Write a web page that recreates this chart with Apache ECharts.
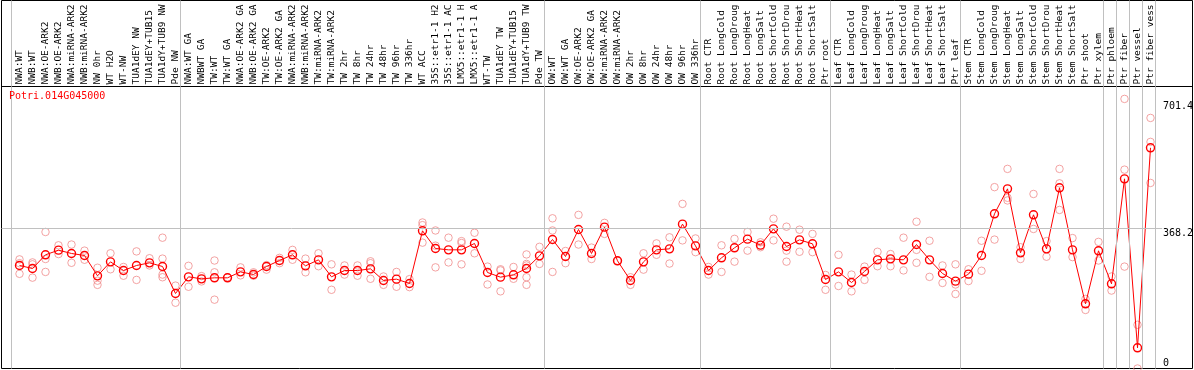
<!DOCTYPE html>
<html><head><meta charset="utf-8">
<script src="https://cdn.jsdelivr.net/npm/echarts@6/dist/echarts.min.js"></script>
<style>html,body{margin:0;padding:0;background:#fff}#c{width:1194px;height:370px}</style>
</head><body><div id="c"></div><script>
// ---------- DATA ----------
const geneName = 'Potri.014G045000';
const categories = [
 "NWA:WT","NWB:WT","NWA:OE-ARK2","NWB:OE-ARK2","NWA:miRNA-ARK2","NWB:miRNA-ARK2","NW 0hr","WT H2O","WT-NW","TUA1dEY NW","TUA1dEY+TUB15","TUA1dY+TUB9 NW","Pde NW",
 "NWA:WT GA","NWBWT GA","TW:WT","TW:WT GA","NWA:OE-ARK2 GA","NWB:OE-ARK2 GA","TW:OE-ARK2","TW:OE-ARK2 GA","NWA:miRNA-ARK2","NWB:miRNA-ARK2","TW:miRNA-ARK2","TW:miRNA-ARK2","TW 2hr","TW 8hr","TW 24hr","TW 48hr","TW 96hr","TW 336hr","WT ACC","35S::etr1-1 H2","35S::etr1-1 AC","LMX5::etr1-1 H","LMX5::etr1-1 A","WT-TW","TUA1dEY TW","TUA1dEY+TUB15","TUA1dY+TUB9 TW","Pde TW",
 "OW:WT","OW:WT GA","OW:OE-ARK2","OW:OE-ARK2 GA","OW:miRNA-ARK2","OW:miRNA-ARK2","OW 2hr","OW 8hr","OW 24hr","OW 48hr","OW 96hr","OW 336hr",
 "Root CTR","Root LongCold","Root LongDroug","Root LongHeat","Root LongSalt","Root ShortCold","Root ShortDrou","Root ShortHeat","Root ShortSalt","Ptr root",
 "Leaf CTR","Leaf LongCold","Leaf LongDroug","Leaf LongHeat","Leaf LongSalt","Leaf ShortCold","Leaf ShortDrou","Leaf ShortHeat","Leaf ShortSalt","Ptr leaf",
 "Stem CTR","Stem LongCold","Stem LongDroug","Stem LongHeat","Stem LongSalt","Stem ShortCold","Stem ShortDrou","Stem ShortHeat","Stem ShortSalt","Ptr shoot","Ptr xylem",
 "Ptr phloem","Ptr fiber","Ptr vessel","Ptr fiber vess"
];
const means = [
 271,263,299,311.2,302.5,297.2,243.7,280.5,257.7,270.9,277.9,268.3,197.3,
 241.1,235.8,238.5,238.5,254.2,247.2,268.3,284.1,299.0,270.0,285.8,241.1,257.7,257.7,262.1,231.4,235.0,223.6,362.1,315.6,312.1,312.1,328.8,252.5,240.2,246.4,263.0,296.3,
 339.3,294.6,365.6,302.5,371.7,283.2,231.4,280.5,312.1,314.7,379.6,322.6,
 257.7,291.1,317.4,340.2,324.4,367.3,320.9,338.4,327.9,234.1,
 254.2,226.2,255.1,285.8,288.4,285.8,326.1,285.8,249.9,229.7,
 248.1,297.2,406.8,472.5,304.2,404.2,314.7,475.2,312.1,170.1,309.5,
 222.7,498.8,54.4,580.4
];
const replicates = [
 [287,277,249],[279,274,239],[359,288,254],[324,301],[326,278],[310,286],[265,231,220],[303,261],[267,244],[308,233],[290,271],[344,289,247,240],[218,173],
 [270,215],[243,229],[284,253,181],[240],[266,245],[253,244],[272,260],[291,277],[312,286],[289,253],[303,269],[274,207],[271,247],[271,244],[282,277,236],[242,220],[254,215],[235,214],[384,377,331],[363,323,266],[344,279],[335,330,274],[357,303],[268,221],[261,258,203],[267,236],[300,275,271,240,220],[320,275],
 [395,363,254],[309,277],[404,326],[318,288],[383,354],[283],[240,220],[303,260],[329,299],[345,276],[433,337],[342,306],
 [267,247],[324,254],[341,281],[359,310],[332,319],[394,337],[373,310,281],[365,307],[354,306],[246,207],
 [299,217],[247,203],[268,233],[307,269],[301,269],[344,258],[386,312,278],[336,241],[271,225],[274,221,196],
 [261,230],[336,257],[477,339],[525,449,442],[319,288],[459,367],[335,294],[525,487,417],[343,293],[183,154],[333,284],
 [242,205],[709,523,268],[115,0],[659,596,488]
];
// number of categories before each group separator
const groupBreaks = [0,13,41,53,63,73,84,85,86,87,88];
const yTickValues = [0,368.2,701.4];
const gridLineValue = 368.2;

// ---------- LAYOUT ----------
const PX_LEFT = 1.5, PX_RIGHT = 1192.5, FIRST_X = 19.5, STEP = 13;
const xMin = 1 - (FIRST_X - PX_LEFT) / STEP;
const xMax = 1 + (PX_RIGHT - FIRST_X) / STEP;
const PLOT_TOP_VAL = 736.4, PLOT_TOP_PX = 88.5, PLOT_BOTTOM_PX = 368.5;
const HEADER_TOP = 0.5, AXIS_LINE_PX = 86.5;
const pxPerUnit = (PLOT_BOTTOM_PX - PLOT_TOP_PX) / PLOT_TOP_VAL;
const yMax = (PLOT_BOTTOM_PX - AXIS_LINE_PX) / pxPerUnit;

const catIdx = categories.map((c, i) => i + 1);
const meanData = means.map((m, i) => [i + 1, m]);
const repData = [];
replicates.forEach((arr, i) => arr.forEach(v => repData.push([i + 1, v])));

const sepVals = groupBreaks.map(n => n + 0.5 - 1.5 / STEP);
const plotLines = sepVals.map(v => ({xAxis: v}));
plotLines.push([{coord: [xMin, gridLineValue]}, {coord: [88.9, gridLineValue]}]);
const headerLines = sepVals.map(v => ({xAxis: v}));

const markLineBase = {
  silent: true, symbol: ['none', 'none'], label: {show: false},
  lineStyle: {color: '#c0c0c0', type: 'solid', width: 1},
  emphasis: {disabled: true}
};

const chart = echarts.init(document.getElementById('c'), null, {renderer: 'canvas'});
chart.setOption({
  animation: false,
  backgroundColor: '#ffffff',
  title: {
    text: geneName, left: 9, top: 91, padding: 0,
    textStyle: {color: '#ff0000', fontFamily: 'DejaVu Sans Mono', fontSize: 10, fontWeight: 'normal'}
  },
  grid: [
    { // plot
      left: PX_LEFT, right: 1194 - PX_RIGHT, top: AXIS_LINE_PX, bottom: 370 - PLOT_BOTTOM_PX,
      show: true, borderColor: '#000', borderWidth: 1, backgroundColor: 'transparent',
      containLabel: false, outerBoundsMode: 'none'
    },
    { // header (label band)
      left: PX_LEFT, right: 1194 - PX_RIGHT, top: HEADER_TOP, height: AXIS_LINE_PX - HEADER_TOP,
      show: true, borderColor: '#000', borderWidth: 1, backgroundColor: 'transparent',
      containLabel: false, outerBoundsMode: 'none'
    }
  ],
  xAxis: [
    {
      gridIndex: 0, type: 'value', position: 'top',
      min: xMin, max: xMax,
      axisLine: {show: true, onZero: false, lineStyle: {color: '#000', width: 1}},
      axisTick: {show: false}, splitLine: {show: false},
      axisLabel: {
        customValues: catIdx,
        formatter: v => categories[Math.round(v) - 1] || '',
        rotate: -90, margin: 2, fontFamily: 'DejaVu Sans Mono', fontSize: 9.5, color: '#000'
      }
    },
    {gridIndex: 1, type: 'value', min: xMin, max: xMax, show: false}
  ],
  yAxis: [
    {
      gridIndex: 0, type: 'value', position: 'right', min: 0, max: yMax,
      axisLine: {show: false}, axisTick: {show: false}, splitLine: {show: false},
      axisLabel: {
        inside: true, customValues: yTickValues,
        formatter: v => (v === 0 ? '0' : v.toFixed(1)),
        align: 'left', margin: 29.5, verticalAlign: 'top',
        verticalAlignMinLabel: 'bottom', verticalAlignMaxLabel: 'top',
        fontFamily: 'DejaVu Sans Mono', fontSize: 10, color: '#000'
      }
    },
    {gridIndex: 1, type: 'value', min: 0, max: 1, show: false}
  ],
  series: [
    {
      type: 'line', xAxisIndex: 1, yAxisIndex: 1, data: [], z: 1, silent: true,
      markLine: Object.assign({}, markLineBase, {data: headerLines})
    },
    {
      type: 'line', xAxisIndex: 0, yAxisIndex: 0, data: [], z: 1, silent: true,
      markLine: Object.assign({}, markLineBase, {data: plotLines})
    },
    {
      type: 'scatter', xAxisIndex: 0, yAxisIndex: 0, data: repData, z: 2, silent: true,
      symbol: 'circle', symbolSize: 7.5,
      itemStyle: {color: 'rgba(0,0,0,0)', borderColor: '#f08c8c', borderWidth: 1}
    },
    {
      type: 'line', xAxisIndex: 0, yAxisIndex: 0, data: meanData, z: 3, silent: true,
      symbol: 'circle', symbolSize: 8,
      lineStyle: {color: '#ff0000', width: 1},
      itemStyle: {color: 'rgba(0,0,0,0)', borderColor: '#ff0000', borderWidth: 1.4}
    }
  ]
});
</script></body></html>
